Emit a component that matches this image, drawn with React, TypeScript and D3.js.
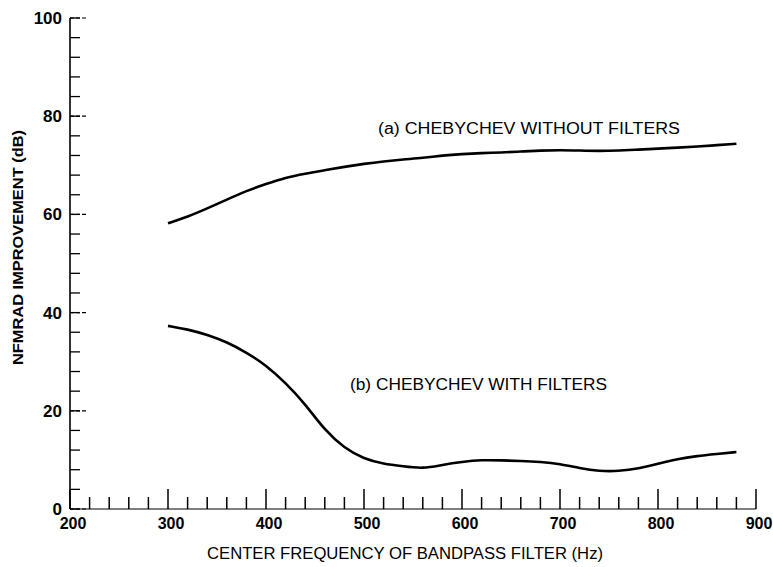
import React from "react";
import * as d3 from "d3";

const freqs = [300, 320, 340, 360, 380, 400, 420, 440, 460, 480, 500, 520, 540, 560, 580, 600, 620, 640, 660, 680, 700, 720, 740, 760, 780, 800, 820, 840, 860, 880];
const seriesA = [58.2, 59.5, 61.2, 63.0, 64.8, 66.2, 67.5, 68.3, 69.0, 69.7, 70.3, 70.8, 71.2, 71.5, 72.0, 72.3, 72.5, 72.6, 72.8, 73.0, 73.1, 73.0, 72.9, 73.0, 73.2, 73.4, 73.6, 73.8, 74.1, 74.4];
const seriesB = [37.3, 36.6, 35.5, 34.0, 31.9, 29.3, 25.7, 21.4, 16.0, 12.4, 10.2, 9.2, 8.7, 8.2, 9.0, 9.6, 10.0, 9.9, 9.8, 9.6, 9.2, 8.3, 7.7, 7.7, 8.2, 9.2, 10.2, 10.8, 11.2, 11.6];
const xTickLabels = [200, 300, 400, 500, 600, 700, 800, 900];
const yTickLabels = [0, 20, 40, 60, 80, 100];
const labelA = "(a) CHEBYCHEV WITHOUT FILTERS";
const labelB = "(b) CHEBYCHEV WITH FILTERS";
const xTitle = "CENTER FREQUENCY OF BANDPASS FILTER (Hz)";
const yTitle = "NFMRAD IMPROVEMENT (dB)";

export default function App() {
  const W = 773, H = 567;
  const x = d3.scaleLinear().domain([200, 900]).range([70, 756]);
  const y = d3.scaleLinear().domain([0, 100]).range([509, 18]);
  const line = d3
    .line<number>()
    .x((_, i) => x(freqs[i]))
    .y((d) => y(d))
    .curve(d3.curveBasis);

  const xMinor = d3.range(200, 901, 20);
  const yMinor = d3.range(0, 101, 4);
  const font = "'Liberation Sans', Arial, sans-serif";

  return (
    <svg width={W} height={H} style={{ position: "absolute", left: 0, top: 0, background: "#fff" }}>
      {/* axes */}
      <line x1={x(200)} x2={x(900)} y1={y(0)} y2={y(0)} stroke="#000" strokeWidth={1} />
      <line x1={x(200)} x2={x(200)} y1={y(0)} y2={y(100)} stroke="#000" strokeWidth={1.6} />

      {/* x ticks */}
      {xMinor.map((f) => {
        const major = f % 100 === 0;
        return (
          <line key={"xt" + f} x1={x(f)} x2={x(f)} y1={y(0)} y2={y(0) - (major ? 20 : 12)} stroke="#000" strokeWidth={1.5} />
        );
      })}
      {xTickLabels.map((f) => (
        <text key={"xl" + f} x={x(f) + 3} y={529} textAnchor="middle" fontFamily={font} fontSize={16} fontWeight={600}>
          {f}
        </text>
      ))}

      {/* y ticks */}
      {yMinor.map((v) => (
        <line key={"yt" + v} x1={x(200)} x2={x(200) + 10} y1={y(v)} y2={y(v)} stroke="#000" strokeWidth={1.3} />
      ))}
      {yTickLabels.map((v) => (
        <line key={"ym" + v} x1={x(200)} x2={x(200) + 16} y1={y(v)} y2={y(v)} stroke="#000" strokeWidth={1.2} strokeDasharray="4,2" />
      ))}
      {yTickLabels.map((v) => (
        <text key={"yl" + v} x={62} y={y(v) + 6} textAnchor="end" fontFamily={font} fontSize={17} fontWeight={600}>
          {v}
        </text>
      ))}

      {/* curves */}
      <path d={line(seriesA) || ""} fill="none" stroke="#000" strokeWidth={2.6} />
      <path d={line(seriesB) || ""} fill="none" stroke="#000" strokeWidth={2.6} />

      {/* annotations */}
      <text x={378} y={134} fontFamily={font} fontSize={16} textLength={302} lengthAdjust="spacingAndGlyphs">
        {labelA}
      </text>
      <text x={350} y={390} fontFamily={font} fontSize={16} textLength={257} lengthAdjust="spacingAndGlyphs">
        {labelB}
      </text>

      {/* titles */}
      <text x={207} y={559} fontFamily={font} fontSize={16} textLength={396} lengthAdjust="spacingAndGlyphs">
        {xTitle}
      </text>
      <text
        transform={`translate(23, 365) rotate(-90)`}
        fontFamily={font}
        fontSize={15}
        fontWeight={600}
        textLength={235}
        lengthAdjust="spacingAndGlyphs"
      >
        {yTitle}
      </text>
    </svg>
  );
}
